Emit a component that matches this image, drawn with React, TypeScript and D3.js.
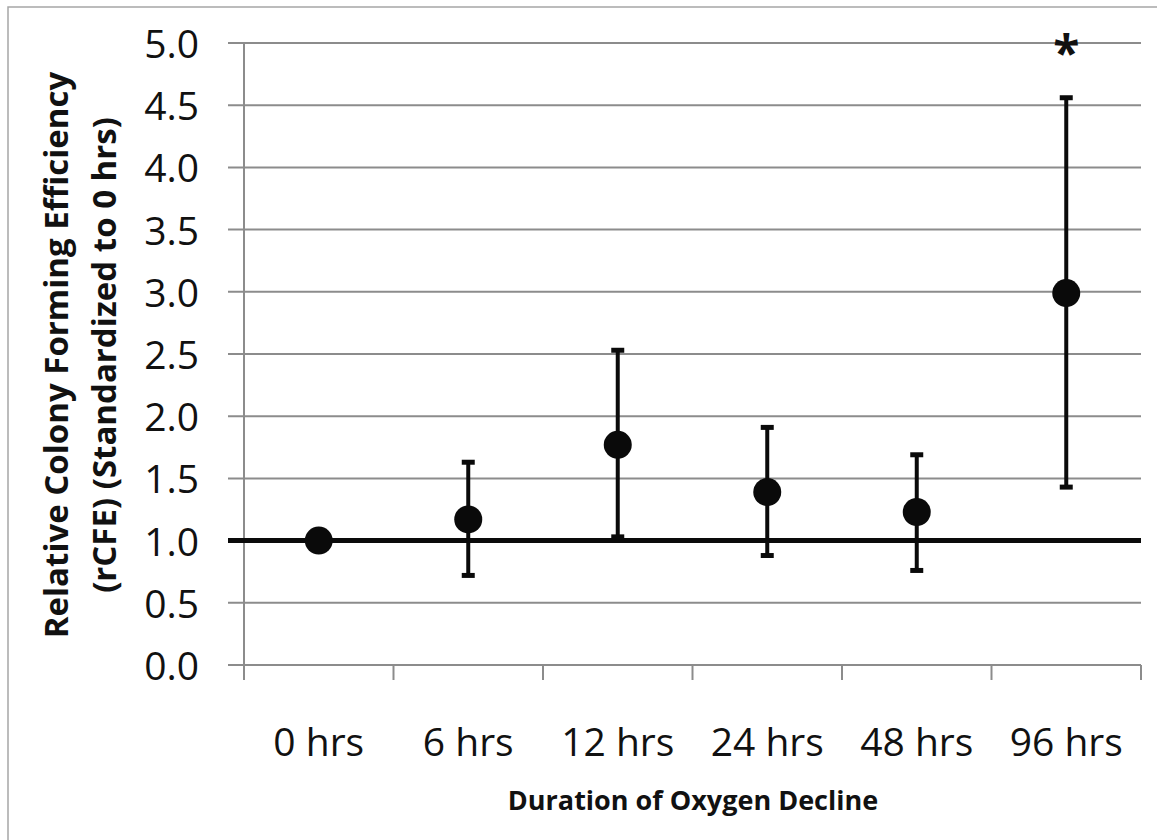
import React from 'react';
import * as d3 from 'd3';

// chart data
const categories = ['0 hrs', '6 hrs', '12 hrs', '24 hrs', '48 hrs', '96 hrs'];
const means = [1.0, 1.17, 1.77, 1.39, 1.23, 2.99];
const upper = [null, 1.63, 2.53, 1.91, 1.69, 4.56];
const lower = [null, 0.72, 1.03, 0.88, 0.76, 1.43];
const yTicks = [0, 0.5, 1, 1.5, 2, 2.5, 3, 3.5, 4, 4.5, 5];
const significant = ['96 hrs'];
const baseline = 1.0;

const width = 1157;
const height = 840;
const margin = { top: 43, right: 16, bottom: 175, left: 244 };

const font = '"Open Sans", "Noto Sans", sans-serif';
const gridColor = '#8c8c8c';

const App = () => {
  const xScale = d3.scaleBand()
    .domain(categories)
    .range([margin.left, width - margin.right])
    .padding(0);
  const yScale = d3.scaleLinear()
    .domain([0, 5])
    .range([height - margin.bottom, margin.top]);

  const x0 = margin.left;
  const x1 = width - margin.right;
  const yBottom = yScale(0);
  const bw = xScale.bandwidth();
  const cx = (c) => xScale(c) + bw / 2;

  // x tick positions on band edges
  const xEdges = categories.map(c => xScale(c)).concat([x1]);

  return (
    <svg width={width} height={height} style={{ position: 'absolute', left: 0, top: 0, background: '#fff' }}>
      {/* outer frame */}
      <rect x={8} y={7} width={width + 20} height={height + 20} fill='#fff' stroke='#a6a6a6' strokeWidth='1.5' />

      {/* gridlines and y labels */}
      {yTicks.map(t => (
        <g key={t}>
          <line x1={x0 - 16} x2={x1} y1={yScale(t)} y2={yScale(t)} stroke={gridColor} strokeWidth='2' />
          <text x={199} y={yScale(t) + 15} textAnchor='end' fontFamily={font} fontSize='39' fill='#111'>
            {t.toFixed(1)}
          </text>
        </g>
      ))}

      {/* y axis */}
      <line x1={x0} x2={x0} y1={margin.top} y2={yBottom + 15} stroke={gridColor} strokeWidth='2' />

      {/* x ticks */}
      {xEdges.map((e, i) => (
        <line key={i} x1={e} x2={e} y1={yBottom} y2={yBottom + 15} stroke={gridColor} strokeWidth='2' />
      ))}

      {/* x labels */}
      {categories.map(c => (
        <text key={c} x={cx(c)} y={756} textAnchor='middle' fontFamily={font} fontSize='39' fill='#111'>{c}</text>
      ))}

      {/* reference line at 1.0 */}
      <line x1={x0 - 16} x2={x1} y1={yScale(baseline)} y2={yScale(baseline)} stroke='#0a0a0a' strokeWidth='5' />

      {/* error bars */}
      {categories.map((c, i) => {
        if (upper[i] == null) return null;
        const x = cx(c);
        return (
          <g key={c} stroke='#0a0a0a'>
            <line x1={x} x2={x} y1={yScale(upper[i])} y2={yScale(lower[i])} strokeWidth='4' />
            <line x1={x - 6.5} x2={x + 6.5} y1={yScale(upper[i])} y2={yScale(upper[i])} strokeWidth='5' />
            <line x1={x - 6.5} x2={x + 6.5} y1={yScale(lower[i])} y2={yScale(lower[i])} strokeWidth='5' />
          </g>
        );
      })}

      {/* points */}
      {categories.map((c, i) => (
        <circle key={c} cx={cx(c)} cy={yScale(means[i])} r='14' fill='#0a0a0a' />
      ))}

      {/* significance marker */}
      {significant.map(c => (
        <text key={c} x={cx(c)} y={yScale(5) + 27} textAnchor='middle' fontFamily={font} fontWeight='bold' fontSize='48' fill='#111'>*</text>
      ))}

      {/* y axis title */}
      <g transform={`translate(68, 355) rotate(-90)`}>
        <text x={0} y={0} textAnchor='middle' fontFamily={font} fontWeight='bold' fontSize='33' fill='#111'>
          Relative Colony Forming Efficiency
        </text>
        <text x={0} y={48} textAnchor='middle' fontFamily={font} fontWeight='bold' fontSize='33' fill='#111'>
          (rCFE) (Standardized to 0 hrs)
        </text>
      </g>

      {/* x axis title */}
      <text x={693} y={810} textAnchor='middle' fontFamily={font} fontWeight='bold' fontSize='27' fill='#111'>
        Duration of Oxygen Decline
      </text>
    </svg>
  );
};

export default App;
